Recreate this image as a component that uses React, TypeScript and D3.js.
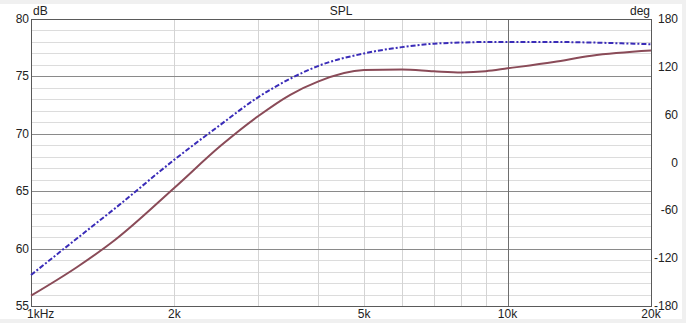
import React from "react";
import * as d3 from "d3";

const freqs = [1000, 1250, 1500, 2000, 2500, 3000, 3500, 4000, 5000, 6000, 7000, 8000, 9000, 10000, 12500, 15000, 20000];
const splBrown = [55.9, 58.4, 60.75, 65.3, 68.95, 71.55, 73.4, 74.55, 75.55, 75.6, 75.45, 75.35, 75.45, 75.7, 76.25, 76.8, 77.25];
const splBlue = [57.7, 60.9, 63.5, 67.75, 70.8, 73.2, 74.8, 75.9, 77.0, 77.55, 77.85, 77.95, 78.0, 78.0, 78.0, 77.95, 77.8];

const dbTicks = [55, 60, 65, 70, 75, 80];
const degTicks = [180, 120, 60, 0, -60, -120, -180];
const xTickLabels: [number, string][] = [[1000, "1kHz"], [2000, "2k"], [5000, "5k"], [10000, "10k"], [20000, "20k"]];
const xMinor = [2000, 3000, 4000, 5000, 6000, 7000, 8000, 9000, 20000];

const W = 686, H = 323;
const L = 31, R = 651, T = 19, B = 306;
const FONT = "'Liberation Sans', Arial, sans-serif";

export default function App() {
  const x = d3.scaleLog().domain([1000, 20000]).range([L, R]);
  const y = d3.scaleLinear().domain([55, 80]).range([B, T]);
  const yDeg = d3.scaleLinear().domain([-180, 180]).range([B, T]);
  const line = (vals: number[]) =>
    d3.line<number>().x((_, i) => x(freqs[i])).y((v) => y(v)).curve(d3.curveMonotoneX)(vals) || "";
  const minorDb = d3.range(56, 80).filter((v) => v % 5 !== 0);

  return (
    <svg width={W} height={H} style={{ position: "absolute", left: 0, top: 0 }} fontFamily={FONT} fontSize={12}>
      <rect x={0} y={0} width={W} height={H} fill="#f0f0f0" />
      <rect x={0} y={4} width={682} height={315} fill="#ffffff" />
      <rect x={L} y={T} width={R - L} height={B - T} fill="#ffffff" />
      {minorDb.map((v) => (
        <line key={"m" + v} x1={L} x2={R} y1={Math.round(y(v)) + 0.5} y2={Math.round(y(v)) + 0.5} stroke="#dcdcdc" />
      ))}
      {xMinor.map((f) => (
        <line key={"v" + f} x1={Math.round(x(f)) + 0.5} x2={Math.round(x(f)) + 0.5} y1={T} y2={B} stroke="#d4d4d4" />
      ))}
      {dbTicks.map((v) => (
        <line key={"M" + v} x1={L} x2={R} y1={Math.round(y(v)) + 0.5} y2={Math.round(y(v)) + 0.5} stroke="#8a8a8a" />
      ))}
      <line x1={Math.round(x(10000)) + 0.5} x2={Math.round(x(10000)) + 0.5} y1={T} y2={B} stroke="#6e6e6e" />
      <rect x={L + 0.5} y={T + 0.5} width={R - L} height={B - T} fill="none" stroke="#5a5a5a" />

      <path d={line(splBrown)} fill="none" stroke="#8a4b58" strokeWidth={2} />
      <path d={line(splBlue)} fill="none" stroke="#3a2cb8" strokeWidth={2} strokeDasharray="5 2 2 2" />

      {dbTicks.map((v) => (
        <text key={"t" + v} x={29} y={y(v) + 4} textAnchor="end" fill="#222">{v}</text>
      ))}
      {degTicks.map((v) => (
        <text key={"d" + v} x={678} y={yDeg(v) + 4} textAnchor="end" fill="#222">{v}</text>
      ))}
      {xTickLabels.map(([f, s]) => (
        <text key={"x" + f} x={f === 1000 ? 27 : x(f)} y={318} textAnchor={f === 1000 ? "start" : "middle"} fill="#222">{s}</text>
      ))}
      <text x={33} y={15} fill="#222">dB</text>
      <text x={(L + R) / 2} y={15} textAnchor="middle" fill="#222">SPL</text>
      <text x={R - 1} y={15} textAnchor="end" fill="#222">deg</text>
    </svg>
  );
}
